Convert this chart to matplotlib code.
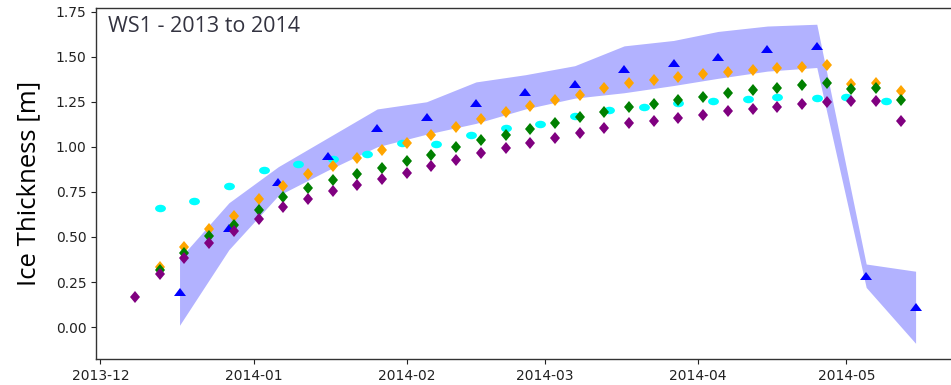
import numpy as np
import pandas as pd
import matplotlib
matplotlib.use("Agg")
import matplotlib.pyplot as plt
import matplotlib.dates as mdates
from matplotlib.markers import MarkerStyle
from matplotlib.transforms import Affine2D

# --- thickness probes, sampled every 5 days (diamonds) ---
probe_dates = ["2013-12-08", "2013-12-13", "2013-12-18", "2013-12-23", "2013-12-28",
               "2014-01-02", "2014-01-07", "2014-01-12", "2014-01-17", "2014-01-22", "2014-01-27",
               "2014-02-01", "2014-02-06", "2014-02-11", "2014-02-16", "2014-02-21", "2014-02-26",
               "2014-03-03", "2014-03-08", "2014-03-13", "2014-03-18", "2014-03-23", "2014-03-28",
               "2014-04-02", "2014-04-07", "2014-04-12", "2014-04-17", "2014-04-22", "2014-04-27",
               "2014-05-02", "2014-05-07", "2014-05-12"]

purple_vals = [0.165, 0.296, 0.383, 0.467, 0.531, 0.600, 0.667, 0.713, 0.757, 0.789, 0.822,
               0.856, 0.892, 0.929, 0.963, 0.994, 1.022, 1.050, 1.078, 1.106, 1.130, 1.146,
               1.161, 1.179, 1.198, 1.211, 1.222, 1.235, 1.250, 1.255, 1.253, 1.146]
# orange and green start one sample later than purple
orange_vals = [0.333, 0.444, 0.546, 0.618, 0.711, 0.785, 0.850, 0.896, 0.939, 0.981,
               1.022, 1.068, 1.109, 1.152, 1.194, 1.226, 1.259, 1.290, 1.324, 1.356,
               1.370, 1.385, 1.402, 1.417, 1.426, 1.439, 1.444, 1.453, 1.349, 1.352, 1.309]
green_vals = [0.315, 0.410, 0.503, 0.568, 0.652, 0.722, 0.772, 0.815, 0.850, 0.883,
              0.920, 0.957, 0.998, 1.037, 1.068, 1.100, 1.133, 1.165, 1.194, 1.220,
              1.240, 1.259, 1.276, 1.296, 1.315, 1.328, 1.341, 1.354, 1.323, 1.328, 1.259]

# --- weekly series (cyan) ---
cyan_dates = ["2013-12-13", "2013-12-20", "2013-12-27", "2014-01-03", "2014-01-10", "2014-01-17",
              "2014-01-24", "2014-01-31", "2014-02-07", "2014-02-14", "2014-02-21", "2014-02-28",
              "2014-03-07", "2014-03-14", "2014-03-21", "2014-03-28", "2014-04-04", "2014-04-11",
              "2014-04-17", "2014-04-25", "2014-05-01", "2014-05-09"]
cyan_vals = [0.661, 0.702, 0.781, 0.870, 0.902, 0.933, 0.961, 1.022, 1.013, 1.063, 1.106,
             1.124, 1.170, 1.203, 1.222, 1.244, 1.253, 1.265, 1.274, 1.272, 1.276, 1.253]

# --- observations with uncertainty band (blue) ---
obs_dates = ["2013-12-17", "2013-12-27", "2014-01-06", "2014-01-16", "2014-01-26", "2014-02-05",
             "2014-02-15", "2014-02-25", "2014-03-07", "2014-03-17", "2014-03-27", "2014-04-05",
             "2014-04-15", "2014-04-25", "2014-05-05", "2014-05-15"]
obs_vals = [0.192, 0.550, 0.803, 0.948, 1.102, 1.165, 1.244, 1.306, 1.350, 1.430, 1.467,
            1.500, 1.544, 1.559, 0.281, 0.109]
obs_low = [0.01, 0.43, 0.73, 0.87, 1.00, 1.07, 1.13, 1.21, 1.27, 1.30, 1.34, 1.38, 1.42,
           1.44, 0.22, -0.09]
obs_high = [0.38, 0.69, 0.89, 1.05, 1.21, 1.25, 1.36, 1.40, 1.45, 1.56, 1.59, 1.64, 1.67,
            1.68, 0.35, 0.31]

yticks = [0.0, 0.25, 0.5, 0.75, 1.0, 1.25, 1.5, 1.75]


def stretched(marker, sx, sy=1.0):
    """The source picture is squashed horizontally, so markers come out wide."""
    return MarkerStyle(marker, transform=Affine2D().scale(sx, sy))


pd_probe = pd.to_datetime(probe_dates)
pd_cyan = pd.to_datetime(cyan_dates)
pd_obs = pd.to_datetime(obs_dates)

fig = plt.figure(figsize=(9.51, 3.85), dpi=100)
ax = fig.add_axes([0.101, 0.0668, 0.9028, 0.9117])

ax.fill_between(pd_obs, obs_low, obs_high, color="blue", alpha=0.3, linewidth=0)
ax.plot(pd_cyan, cyan_vals, linestyle="none", marker=stretched("o", 1.45),
        ms=5.4, mew=0, color="cyan")
ax.plot(pd_obs, obs_vals, linestyle="none", marker=stretched("^", 1.3),
        ms=6.3, mew=0, color="blue")

diamond = stretched("D", 0.87)
ax.plot(pd_probe[1:], orange_vals, linestyle="none", marker=diamond, ms=6.3, mew=0, color="orange")
ax.plot(pd_probe[1:], green_vals, linestyle="none", marker=diamond, ms=6.3, mew=0, color="green")
ax.plot(pd_probe, purple_vals, linestyle="none", marker=diamond, ms=6.3, mew=0, color="purple")

ax.xaxis.set_major_locator(mdates.MonthLocator())
ax.xaxis.set_major_formatter(mdates.DateFormatter("%Y-%m"))
ax.set_yticks(yticks)
ax.set_yticklabels(["%.2f" % v for v in yticks])
ax.tick_params(labelsize=10, colors="#222222")

for side in ["left", "bottom", "top", "right"]:
    ax.spines[side].set_color("#333333")
    ax.spines[side].set_linewidth(1.0)

ax.set_ylabel("Ice Thickness [m]", fontsize=18.5, family="Open Sans")
ax.yaxis.set_label_coords(-0.064, 0.5)
ax.text(0.014, 0.9325, "WS1 - 2013 to 2014", transform=ax.transAxes, fontsize=15.5,
        family="Open Sans", color="#333340", va="baseline")

fig.savefig("out.png", dpi=100)
